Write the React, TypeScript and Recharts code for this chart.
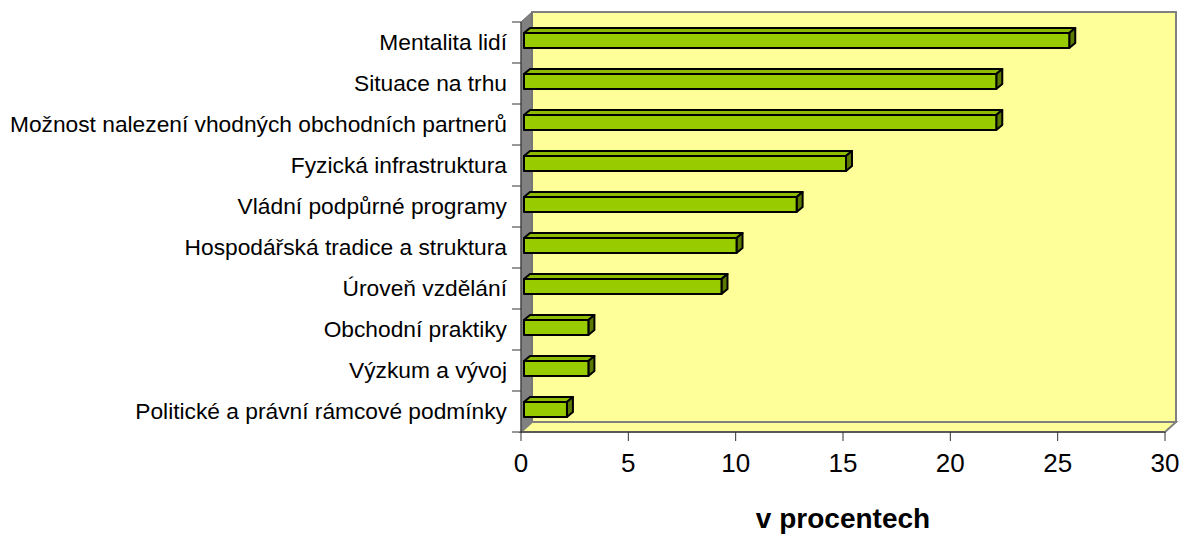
import { Bar, BarChart, ReferenceArea, XAxis, YAxis } from "recharts";

const categories = [
  "Mentalita lidí",
  "Situace na trhu",
  "Možnost nalezení vhodných obchodních partnerů",
  "Fyzická infrastruktura",
  "Vládní podpůrné programy",
  "Hospodářská tradice a struktura",
  "Úroveň vzdělání",
  "Obchodní praktiky",
  "Výzkum a vývoj",
  "Politické a právní rámcové podmínky",
];
const shares = [25.4, 22.0, 22.0, 15.0, 12.7, 9.9, 9.2, 3.0, 3.0, 2.0];
const xTicks = [0, 5, 10, 15, 20, 25, 30];

const data = categories.map((name, i) => ({ name, value: shares[i] }));

const W = 1184;
const H = 537;
const TOP = 22;
const BOTTOM = 105;
const YAXIS_W = 521;
const RIGHT = 19;
const BAND = (H - TOP - BOTTOM) / categories.length;
const DX = 11;
const DY = 10;
const FONT = '"Liberation Sans", Arial, sans-serif';
const AXIS = "#333";

function Walls(props: any) {
  const { x, y, width, height } = props;
  const right = x + width;
  const bottom = y + height;
  return (
    <g>
      <rect x={x + DX} y={y - DY} width={width} height={height} fill="#FFFF99" stroke="#808080" strokeWidth={2} />
      <polygon
        points={`${x},${y} ${x + DX},${y - DY} ${x + DX},${bottom - DY} ${x},${bottom}`}
        fill="#808080"
        stroke="#6a6a6a"
      />
      <polygon
        points={`${x},${bottom} ${right},${bottom} ${right + DX},${bottom - DY} ${x + DX},${bottom - DY}`}
        fill="#FFFF99"
        stroke="#808080"
        strokeWidth={2}
      />
    </g>
  );
}

function Bar3D(props: any) {
  const { x, y, width, height } = props;
  const x0 = x + 3;
  const y0 = y - 2;
  const x1 = x0 + width;
  const y1 = y0 + height;
  const dx = 6;
  const dy = 5;
  return (
    <g stroke="#000" strokeWidth={2} strokeLinejoin="round">
      <polygon points={`${x0},${y0} ${x0 + dx},${y0 - dy} ${x1 + dx},${y0 - dy} ${x1},${y0}`} fill="#8DBB00" />
      <polygon points={`${x1},${y0} ${x1 + dx},${y0 - dy} ${x1 + dx},${y1 - dy} ${x1},${y1}`} fill="#5C7A00" />
      <rect x={x0} y={y0} width={width} height={height} fill="#99CC00" />
    </g>
  );
}

function CategoryTick(props: any) {
  const { x, y, payload, index } = props;
  const lx = x + 5;
  return (
    <g>
      <line x1={lx} x2={lx + 9} y1={y - BAND / 2} y2={y - BAND / 2} stroke={AXIS} />
      {index === categories.length - 1 && (
        <line x1={lx} x2={lx + 9} y1={y + BAND / 2} y2={y + BAND / 2} stroke={AXIS} />
      )}
      <text x={x} y={y} dy={7} textAnchor="end" fontSize={22.75} fontFamily={FONT} fill="#000">
        {payload.value}
      </text>
    </g>
  );
}

export default function App() {
  return (
    <div style={{ position: "absolute", left: 0, top: 0, width: W, height: H, background: "#fff" }}>
      <BarChart
        width={W}
        height={H}
        data={data}
        layout="vertical"
        margin={{ top: TOP, right: RIGHT, bottom: 0, left: 0 }}
        barSize={15}
      >
        <XAxis
          type="number"
          domain={[0, 30]}
          ticks={xTicks}
          height={BOTTOM}
          stroke={AXIS}
          tickSize={9}
          tickMargin={13}
          tick={{ fontSize: 26, fontFamily: FONT, fill: "#000" }}
          label={{
            value: "v procentech",
            position: "insideBottom",
            offset: 9,
            style: { fontSize: 28, fontWeight: "bold", fontFamily: FONT, fill: "#000" },
          }}
        />
        <YAxis
          type="category"
          dataKey="name"
          width={YAXIS_W}
          stroke={AXIS}
          tickLine={false}
          tickSize={9}
          tickMargin={5}
          interval={0}
          tick={<CategoryTick />}
        />
        <ReferenceArea x1={0} x2={30} ifOverflow="visible" shape={<Walls />} />
        <Bar dataKey="value" shape={<Bar3D />} isAnimationActive={false} />
      </BarChart>
    </div>
  );
}
